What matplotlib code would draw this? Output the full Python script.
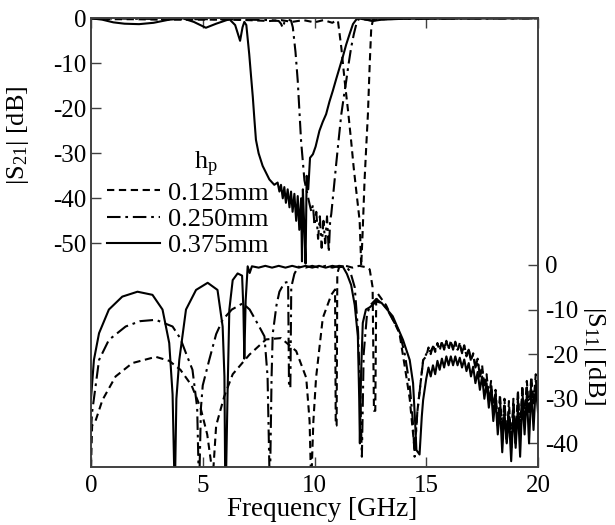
import numpy as np
import matplotlib; matplotlib.use("Agg")
import matplotlib.pyplot as plt

plt.rcParams["font.family"] = "Liberation Serif"
plt.rcParams["mathtext.fontset"] = "custom"
plt.rcParams["mathtext.rm"] = "Liberation Serif"
plt.rcParams["axes.unicode_minus"] = False

# ---- |S21| (left axis), (GHz, dB) ----
s21_125 = [(0, 0), (1, -0.2), (2, -0.2), (3, -0.3), (4, -0.3), (5, -0.3), (6, -0.3), (7, -0.4),
           (8, -0.6), (8.5, -0.4), (9.0, -0.8), (9.5, -0.4), (10.0, -0.9), (10.4, -0.4), (10.8, -1.0),
           (10.95, -0.5), (11.05, -0.6), (11.2, -6.5), (11.35, -13.9), (11.5, -20.5), (11.64, -27.3),
           (11.75, -33), (11.87, -38.4), (12.02, -45), (12.09, -55), (12.15, -48), (12.24, -36),
           (12.32, -28), (12.39, -21.3), (12.47, -10.2), (12.54, -2.1), (12.62, -0.3), (13, -0.2),
           (14, -0.1), (16, 0), (20, 0)]
s21_250 = [(0, 0), (2, -0.1), (4, -0.2), (6, -0.2), (7, -0.3), (8, -0.4), (8.4, -0.6), (8.5, -1.2),
           (8.58, -2.1), (8.66, -0.8), (8.8, -0.3), (8.95, -0.5), (9.03, -2), (9.15, -7.5), (9.25, -13.9),
           (9.4, -27.3), (9.55, -36), (9.7, -39.5), (9.78, -41.3), (9.86, -43), (9.93, -41.5), (10.0, -46),
           (10.08, -43), (10.16, -49), (10.24, -44), (10.32, -51), (10.4, -45), (10.48, -50), (10.56, -44),
           (10.64, -52), (10.7, -45), (10.75, -43.5), (10.86, -38), (10.97, -32.4), (11.08, -27),
           (11.2, -21.3), (11.31, -17.5), (11.42, -13.9), (11.53, -10), (11.64, -6.5), (11.76, -3.5),
           (11.87, -1.3), (12.0, 0), (12.3, -0.3), (12.6, -0.5), (13, -0.2), (14, -0.1), (20, 0)]
s21_375 = [(0, 0), (0.5, -0.3), (1.0, -0.9), (1.5, -1.2), (2.15, -1.3), (2.8, -1.0), (3.5, -0.3),
           (4.1, 0), (4.6, -0.8), (5.14, -2.1), (5.6, -1.2), (6.19, -0.2), (6.45, -1.5), (6.67, -5.0),
           (6.78, -2.0), (6.86, -0.8), (6.95, -1.5), (7.0, -4), (7.08, -8), (7.16, -12.8), (7.24, -17.5),
           (7.31, -22.4), (7.38, -27), (7.5, -30), (7.68, -32.8), (7.98, -35.8), (8.2, -37), (8.35, -36.5),
           (8.43, -38.5), (8.5, -37), (8.58, -40), (8.65, -37.5), (8.72, -41), (8.8, -38), (8.88, -42),
           (8.95, -38.5), (9.02, -43), (9.1, -39), (9.18, -45), (9.25, -39.5), (9.32, -47), (9.4, -40),
           (9.44, -54), (9.48, -38), (9.54, -46), (9.6, -54.5), (9.65, -35), (9.72, -38), (9.8, -31),
           (9.93, -30.2), (10.05, -28.5), (10.22, -25), (10.37, -23), (10.52, -21.3), (10.67, -18.5),
           (10.82, -16.1), (10.97, -13.5), (11.12, -11), (11.27, -8.5), (11.42, -5.8), (11.57, -3.5),
           (11.72, -1.3), (11.85, -0.4), (11.94, 0), (12.3, -0.3), (12.6, -0.6), (13.0, -0.3),
           (14, -0.1), (20, 0)]

# ---- |S11| (right axis), (GHz, dB) up to ~15 GHz ----
s11_125 = [(0, -45.3), (0.05, -36), (0.2, -35), (0.51, -30.3), (1.1, -25), (1.85, -22), (2.9, -20.6),
           (3.5, -21.5), (4.0, -23.5), (4.5, -27), (4.9, -32), (5.2, -38), (5.4, -45.3), (5.48, -45.3),
           (5.6, -36), (5.96, -29.5), (6.34, -24.5), (7.09, -20.1), (7.83, -16.7), (8.5, -16.4),
           (9.18, -19.3), (9.63, -25.3), (9.78, -35), (9.83, -45.3), (9.88, -45.3), (9.95, -35),
           (10.07, -25.3), (10.37, -11.9), (10.75, -6.7), (10.92, -5.5), (10.95, -36), (10.99, -36),
           (11.02, -2), (11.1, -0.5), (11.4, -0.2), (11.7, -0.6), (12.0, -0.2), (12.3, -0.5),
           (12.47, -1), (12.6, -5), (12.66, -32.7), (12.72, -32.7), (12.76, -8), (12.84, -6.5),
           (13.2, -9), (13.8, -15.3), (14.04, -22.8), (14.26, -30), (14.48, -41.5), (14.6, -33),
           (14.86, -21.3)]
s11_250 = [(0, -37), (0.05, -33), (0.13, -30), (0.36, -21.3), (0.8, -16.8), (1.55, -13.8), (2.2, -12.6),
           (2.9, -12.3), (3.65, -13.8), (4.0, -16.5), (4.25, -19.8), (4.54, -23.5), (4.75, -32),
           (4.81, -45.3), (4.86, -45.3), (4.92, -32), (5.0, -27), (5.29, -21.3), (5.6, -15.5),
           (5.89, -12.3), (6.3, -10), (6.79, -8.6), (7.1, -10), (7.38, -12.5), (7.6, -14.5), (7.76, -16),
           (7.9, -25), (7.98, -45.3), (8.02, -45.3), (8.08, -25), (8.13, -15.5), (8.3, -9), (8.43, -6),
           (8.65, -4), (8.82, -3.8), (8.86, -27.5), (8.92, -27.5), (8.96, -5), (9.1, -2), (9.27, -0.4),
           (9.6, -0.6), (9.9, -0.2), (10.2, -0.6), (10.5, -0.2), (10.8, -0.6), (11.1, -0.2),
           (11.42, -0.4), (11.6, -1.5), (11.8, -5), (11.95, -15), (12.05, -30), (12.12, -43),
           (12.2, -20), (12.35, -11), (12.5, -9), (12.77, -7.6), (13.2, -9.5), (13.8, -15), (14.04, -20),
           (14.26, -27), (14.4, -35), (14.48, -43), (14.6, -33), (14.86, -21.5)]
s11_375 = [(0, -30), (0.13, -21.3), (0.36, -15.3), (0.8, -10), (1.4, -7.1), (2.08, -6.0), (2.75, -6.7),
           (3.2, -10), (3.5, -17.5), (3.65, -29), (3.72, -45.3), (3.77, -45.3), (3.82, -30),
           (3.95, -21.3), (4.25, -10), (4.7, -5.6), (5.22, -4.0), (5.66, -5.6), (5.89, -13.8),
           (5.97, -25), (6.0, -45.3), (6.05, -45.3), (6.11, -28.8), (6.19, -10), (6.34, -3.4),
           (6.56, -1.9), (6.76, -2.4), (6.82, -10), (6.86, -21), (6.92, -8), (7.01, -0.3), (7.1, -1.8),
           (7.2, -0.3), (7.5, -0.6), (7.8, -0.2), (8.1, -0.6), (8.4, -0.2), (8.7, -0.6), (9.0, -0.2),
           (9.3, -0.6), (9.6, -0.2), (9.9, -0.6), (10.2, -0.2), (10.5, -0.6), (10.8, -0.2), (11.1, -0.5),
           (11.27, -0.4), (11.45, -2), (11.64, -4.5), (11.8, -9), (11.94, -16), (12.0, -30),
           (12.03, -40), (12.08, -25), (12.16, -13), (12.3, -10), (12.47, -9.5), (12.77, -8.2),
           (13.0, -8.5), (13.5, -11.5), (13.96, -16.8), (14.26, -21.3), (14.41, -26.5), (14.5, -35),
           (14.56, -41.5), (14.7, -42.5), (14.8, -34), (14.86, -30.3)]

# ---- |S11| ripple region 15-20 GHz ----
f_ripple = [15.0, 15.1, 15.2, 15.3, 15.4, 15.5, 15.6, 15.7, 15.8, 15.9, 16.0, 16.1, 16.2, 16.3, 16.4,
            16.5, 16.6, 16.7, 16.8, 16.9, 17.0, 17.1, 17.2, 17.3, 17.4, 17.5, 17.6, 17.7, 17.8, 17.9,
            18.0, 18.1, 18.2, 18.3, 18.4, 18.5, 18.6, 18.7, 18.8, 18.9, 19.0, 19.1, 19.2, 19.3, 19.4,
            19.5, 19.6, 19.7, 19.8, 19.9, 20.0]
r11_125 = [-20.5, -18.5, -20.0, -18.0, -19.5, -17.5, -19.2, -17.2, -19.0, -17.0, -19.0, -17.0, -19.0,
           -17.2, -19.2, -17.5, -19.8, -18.0, -20.5, -18.8, -21.5, -19.8, -23.0, -21.0, -25.0, -22.5,
           -27.5, -24.5, -30.0, -26.0, -33.0, -28.0, -36.0, -29.0, -38.0, -30.0, -40.0, -30.5, -41.0,
           -30.0, -40.0, -28.0, -38.0, -27.0, -35.0, -26.0, -33.0, -25.0, -31.0, -24.5, -30.0]
r11_250 = [-20.0, -19.0, -19.5, -18.3, -19.0, -17.8, -18.8, -17.5, -18.5, -17.3, -18.5, -17.3, -18.7,
           -17.5, -19.0, -17.8, -19.5, -18.3, -20.3, -19.0, -21.5, -20.0, -23.0, -21.5, -25.0, -23.0,
           -27.0, -25.0, -29.5, -27.0, -32.0, -29.0, -35.0, -30.5, -37.0, -31.5, -39.0, -32.0, -40.0,
           -31.5, -38.5, -30.0, -37.0, -28.5, -35.0, -27.5, -33.0, -26.5, -31.0, -26.0, -29.0]
r11_375 = [-25.5, -23.0, -25.0, -22.5, -24.5, -21.5, -23.5, -21.0, -23.0, -20.5, -22.5, -20.5, -22.5,
           -20.5, -22.5, -20.8, -23.0, -21.2, -23.8, -22.0, -25.0, -22.8, -26.5, -24.0, -28.0, -25.0,
           -30.0, -26.5, -32.0, -28.0, -35.0, -30.0, -38.0, -32.0, -42.0, -33.0, -40.0, -34.0, -44.0,
           -33.0, -41.0, -32.0, -43.0, -30.0, -38.0, -29.0, -40.0, -28.0, -37.0, -27.0, -33.0]

labels = ["0.125mm", "0.250mm", "0.375mm"]
styles = [(0, (3.5, 2.2)), (0, (6.5, 2.3, 1.3, 2.3)), "-"]


def xy(pairs):
    a = np.array(pairs, dtype=float)
    return a[:, 0], a[:, 1]


fig = plt.figure(figsize=(6.15, 5.25), dpi=100)
ax = fig.add_axes([91 / 615, 1 - 467 / 525, 447 / 615, 448.7 / 525])
ax2 = ax.twinx()
ax2.set_position(ax.get_position())

lw = 1.5
handles = []
for pairs, lab, ls in zip([s21_125, s21_250, s21_375], labels, styles):
    f, v = xy(pairs)
    h, = ax.plot(f, v, color="k", lw=lw, linestyle=ls, label=lab)
    handles.append(h)
for pairs, rip, ls in zip([s11_125, s11_250, s11_375], [r11_125, r11_250, r11_375], styles):
    f, v = xy(pairs)
    f = np.concatenate([f, f_ripple]); v = np.concatenate([v, rip])
    ax2.plot(f, v, color="k", lw=lw, linestyle=ls)

ax.set_xlim(0, 20)
ax.set_ylim(-99.7, 0)
ax2.set_ylim(-45.3, 55.3)
ax.set_xticks([0, 5, 10, 15, 20])
ax.set_yticks([0, -10, -20, -30, -40, -50])
ax2.set_yticks([0, -10, -20, -30, -40])
ax.tick_params(axis="both", direction="in", length=7, width=1, labelsize=18, top=True, right=False,
               color="0.25")
ax.tick_params(axis="x", pad=6)
ax2.tick_params(axis="y", direction="in", length=7, width=1, labelsize=18, color="0.25", pad=5)
for a in (ax, ax2):
    for s in a.spines.values():
        s.set_color("0.25"); s.set_linewidth(1.2)

fig.text(18 / 615, 1 - 135 / 525, r"|S$\mathregular{_{21}}$| [dB]", rotation=90, fontsize=19,
         ha="center", va="center")
fig.text(594 / 615, 1 - 356 / 525, r"|S$\mathregular{_{11}}$| [dB]", rotation=270, fontsize=19,
         ha="center", va="center")
fig.text(322 / 615, 1 - 509 / 525, "Frequency [GHz]", fontsize=19.5, ha="center", va="center")

# legend: title as its own text, entries through ax.legend
fig.text(206 / 615, 1 - 164 / 525, r"h$\mathregular{_p}$", fontsize=19, ha="center", va="center")
ax.legend(handles=handles, loc="upper left", bbox_to_anchor=(0.036, 0.637), frameon=False,
          fontsize=19, handlelength=2.0, handletextpad=0.3, labelspacing=0.11, borderpad=0,
          borderaxespad=0)

fig.savefig("out.png", dpi=100)
